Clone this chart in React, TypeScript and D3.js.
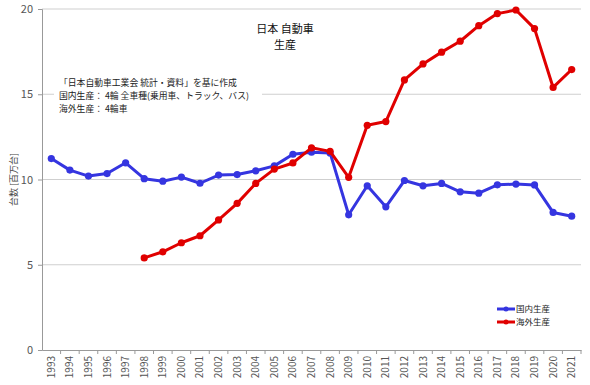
import { useRef, useEffect } from "react";
import * as d3 from "d3";

// 生産台数 [百万台]
const years = [
  1993, 1994, 1995, 1996, 1997, 1998, 1999, 2000, 2001, 2002, 2003, 2004, 2005, 2006, 2007,
  2008, 2009, 2010, 2011, 2012, 2013, 2014, 2015, 2016, 2017, 2018, 2019, 2020, 2021,
];
const domestic = [
  11.23, 10.55, 10.2, 10.35, 10.98, 10.05, 9.9, 10.14, 9.78, 10.26, 10.29, 10.51, 10.8, 11.48,
  11.6, 11.56, 7.93, 9.63, 8.4, 9.94, 9.63, 9.77, 9.28, 9.2, 9.69, 9.73, 9.68, 8.07, 7.85,
];
const overseasYears = [
  1998, 1999, 2000, 2001, 2002, 2003, 2004, 2005, 2006, 2007, 2008, 2009, 2010, 2011, 2012,
  2013, 2014, 2015, 2016, 2017, 2018, 2019, 2020, 2021,
];
const overseas = [
  5.4, 5.76, 6.29, 6.7, 7.63, 8.6, 9.77, 10.61, 10.97, 11.86, 11.65, 10.13, 13.18, 13.4, 15.84,
  16.78, 17.47, 18.11, 19.02, 19.73, 19.94, 18.85, 15.4, 16.45,
];
const yTicks = [0, 5, 10, 15, 20];
const seriesNames = ["国内生産", "海外生産"];
const seriesColors = ["#3535e0", "#e00000"];
const titleLines = ["日本 自動車", "生産"];
const noteLines = [
  "「日本自動車工業会 統計・資料」を基に作成",
  "国内生産： 4輪 全車種(乗用車、トラック、バス)",
  "海外生産： 4輪車",
];

const W = 590;
const H = 385;
const FONT = "'Noto Sans CJK JP', 'DejaVu Sans', sans-serif";

const App = () => {
  const svgRef = useRef<SVGSVGElement>(null);

  useEffect(() => {
    const svg = d3.select(svgRef.current);
    svg.selectAll("*").remove();

    const left = 42, right = 581, top = 9, bottom = 350;

    const x = d3.scaleBand<number>().domain(years).range([left, right]);
    const cx = (yr: number) => (x(yr) ?? 0) + x.bandwidth() / 2;
    const y = d3.scaleLinear().domain([0, 20]).range([bottom, top]);

    svg.append("rect").attr("width", W).attr("height", H).attr("fill", "#fff");

    // grid
    svg.append("g")
      .selectAll("line")
      .data(yTicks.filter(d => d > 0))
      .join("line")
      .attr("x1", left).attr("x2", right)
      .attr("y1", d => y(d)).attr("y2", d => y(d))
      .attr("stroke", "#cfcfcf").attr("stroke-width", 1);

    // y axis
    const yAxis = svg.append("g")
      .attr("transform", `translate(${left},0)`)
      .call(d3.axisLeft(y).tickValues(yTicks).tickSize(4).tickPadding(5));
    yAxis.select(".domain").attr("stroke", "#999");
    yAxis.selectAll(".tick line").attr("stroke", "#999");
    yAxis.selectAll("text").attr("font-family", FONT).attr("font-size", 11).attr("fill", "#555");

    // x axis
    const xAxis = svg.append("g")
      .attr("transform", `translate(0,${bottom})`)
      .call(d3.axisBottom(x).tickSize(4).tickSizeOuter(0));
    xAxis.select(".domain").attr("stroke", "#999");
    xAxis.selectAll(".tick line").attr("stroke", "#999")
      .attr("transform", `translate(${x.bandwidth() / 2},0)`);
    xAxis.selectAll("text")
      .attr("font-family", FONT).attr("font-size", 10).attr("fill", "#555")
      .attr("transform", "rotate(-90)")
      .attr("text-anchor", "end")
      .attr("x", -6).attr("y", 0).attr("dy", "0.35em");

    // y label
    svg.append("text")
      .attr("transform", `translate(17,${y(10)}) rotate(-90)`)
      .attr("text-anchor", "middle")
      .attr("font-family", FONT).attr("font-size", 9).attr("fill", "#444")
      .text("台数 [百万台]");

    // title
    svg.append("g")
      .selectAll("text")
      .data(titleLines)
      .join("text")
      .attr("x", 285).attr("y", (_d, i) => 33 + i * 16)
      .attr("text-anchor", "middle")
      .attr("font-family", FONT).attr("font-size", 11).attr("fill", "#111")
      .text(d => d);

    // note with white box over grid
    svg.append("rect")
      .attr("x", 54).attr("y", 74).attr("width", 208).attr("height", 40).attr("fill", "#fff");
    svg.append("g")
      .selectAll("text")
      .data(noteLines)
      .join("text")
      .attr("x", 59).attr("y", (_d, i) => 86 + i * 13)
      .attr("font-family", FONT).attr("font-size", 8.8).attr("fill", "#222")
      .text(d => d);

    const line = d3.line<[number, number]>().x(d => cx(d[0])).y(d => y(d[1]));
    const series: [number, number][][] = [
      years.map((yr, i) => [yr, domestic[i]]),
      overseasYears.map((yr, i) => [yr, overseas[i]]),
    ];

    series.forEach((pts, si) => {
      const g = svg.append("g");
      g.append("path")
        .datum(pts)
        .attr("d", line)
        .attr("fill", "none")
        .attr("stroke", seriesColors[si])
        .attr("stroke-width", 3)
        .attr("stroke-linejoin", "round");
      g.selectAll("circle")
        .data(pts)
        .join("circle")
        .attr("cx", d => cx(d[0]))
        .attr("cy", d => y(d[1]))
        .attr("r", 3.6)
        .attr("fill", seriesColors[si]);
    });

    // legend
    const legend = svg.append("g").attr("transform", "translate(497,309)");
    seriesNames.forEach((name, i) => {
      const row = legend.append("g").attr("transform", `translate(0,${i * 13})`);
      row.append("line").attr("x1", 0).attr("x2", 18)
        .attr("stroke", seriesColors[i]).attr("stroke-width", 3);
      row.append("circle").attr("cx", 9).attr("r", 2.5).attr("fill", seriesColors[i]);
      row.append("text").attr("x", 19).attr("dy", "0.35em")
        .attr("font-family", FONT).attr("font-size", 8.5).attr("fill", "#222")
        .text(name);
    });
  }, []);

  return (
    <svg ref={svgRef} width={W} height={H}
      style={{ position: "absolute", left: 0, top: 0, display: "block" }} />
  );
};

export default App;
